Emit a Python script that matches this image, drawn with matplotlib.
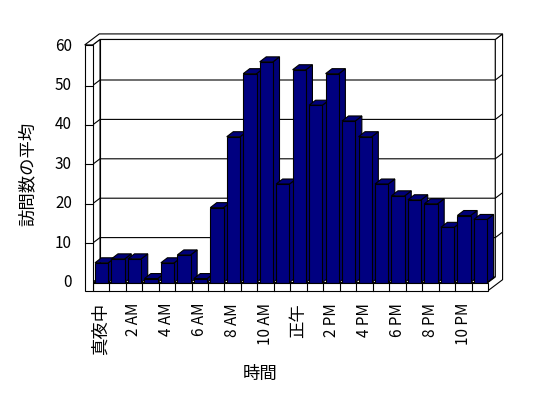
import matplotlib
matplotlib.use("Agg")
import matplotlib.pyplot as plt
from matplotlib.patches import Polygon

plt.rcParams['font.family'] = ['Noto Sans CJK JP', 'DejaVu Sans']

# ---- data ----
hours = list(range(24))
tick_labels = ['真夜中', '2 AM', '4 AM', '6 AM', '8 AM', '10 AM',
               '正午', '2 PM', '4 PM', '6 PM', '8 PM', '10 PM']
visits = [5, 6, 6, 1, 5, 7, 1, 19, 37, 53, 56, 25,
          54, 45, 53, 41, 37, 25, 22, 21, 20, 14, 17, 16]
y_ticks = [0, 10, 20, 30, 40, 50, 60]
y_label = '訪問数の平均'
x_label = '時間'

# ---- layout (pixel geometry of the pseudo-3D frame) ----
W, H = 548, 398
px_cat = 16.47          # pixels per category
px_unit = 3.94          # pixels per value unit
x0_px = 92.7            # left edge of category -0.5 (front plane)
y0_px = 282.5           # value 0 (front plane), from top

fig = plt.figure(figsize=(W / 100, H / 100), dpi=100)
ax = fig.add_axes([0, 0, 1, 1])
ax.set_xlim(-0.5 - x0_px / px_cat, -0.5 + (W - x0_px) / px_cat)
ax.set_ylim((y0_px - H) / px_unit, y0_px / px_unit)
ax.axis('off')

dx, dy = 7.3 / px_cat, 5.5 / px_unit      # depth of plot box
bdx, bdy = 6.5 / px_cat, 5.0 / px_unit    # depth of bars
T = 8.0 / px_cat                          # left wall thickness
F = 8.2 / px_unit                         # floor thickness
X0, X1 = -0.5, len(hours) - 0.5
top = 60.3
lw = 0.8
edge = 'black'

def poly(pts, fc='white', z=1):
    ax.add_patch(Polygon(pts, closed=True, facecolor=fc, edgecolor=edge,
                         linewidth=lw, joinstyle='miter', zorder=z))

# back wall inner face
poly([(X0 + dx, dy), (X1 + dx, dy), (X1 + dx, top + dy), (X0 + dx, top + dy)], z=1)
# left wall inner face
poly([(X0, 0), (X0, top), (X0 + dx, top + dy), (X0 + dx, dy)], z=1)
# floor top
poly([(X0, 0), (X1, 0), (X1 + dx, dy), (X0 + dx, dy)], z=1)
# right side face
poly([(X1, 0), (X1, -F), (X1 + 2 * dx, -F + 2 * dy), (X1 + 2 * dx, top + 2 * dy),
      (X1 + dx, top + dy), (X1 + dx, dy)], z=1)
# top face of walls
poly([(X0 - T, top), (X0 - T + 2 * dx, top + 2 * dy), (X1 + 2 * dx, top + 2 * dy),
      (X1 + dx, top + dy), (X0 + dx, top + dy), (X0, top)], z=1)

# gridlines
for v in y_ticks[1:-1]:
    ax.plot([X0, X0 + dx, X1 + dx, X1 + 2 * dx],
            [v, v + dy, v + dy, v + 2 * dy], color=edge, lw=lw, zorder=2,
            solid_capstyle='butt')

# bars
a, w = 2.3 / px_cat, 13.3 / px_cat
front_c, top_c, side_c = '#000080', '#000078', '#000078'
for i, v in zip(hours, visits):
    xl = i - 0.5 + a
    xr = xl + w
    z = 3 + i * 0.01
    poly([(xr, 0), (xr, v), (xr + bdx, v + bdy), (xr + bdx, bdy)], fc=side_c, z=z)
    poly([(xl, v), (xr, v), (xr + bdx, v + bdy), (xl + bdx, v + bdy)], fc=top_c, z=z)
    poly([(xl, 0), (xr, 0), (xr, v), (xl, v)], fc=front_c, z=z + 0.001)

# floor front face with category cells
poly([(X0, -F), (X1, -F), (X1, 0), (X0, 0)], z=5)
for i in hours[1:]:
    ax.plot([i - 0.5, i - 0.5], [-F, 0], color=edge, lw=lw, zorder=5.1)
# left wall front face
poly([(X0 - T, -F), (X0, -F), (X0, top), (X0 - T, top)], z=5)
for v in y_ticks[1:-1]:
    ax.plot([X0 - T, X0], [v, v], color=edge, lw=lw, zorder=5.1)

# y tick labels
xlab = X0 - (x0_px - 72) / px_cat
for v in y_ticks:
    ax.text(xlab, v, str(v), ha='right', va='center', fontsize=11)

# x tick labels
ylab = (y0_px - 303) / px_unit
for k, lab in enumerate(tick_labels):
    cjk = not any(c.isascii() for c in lab)
    ax.text(hours[2 * k], ylab, lab, rotation=90, ha='center', va='top',
            fontsize=12.5 if cjk else 11)

# axis titles
ax.text(X0 - (x0_px - 28) / px_cat, (y0_px - 174) / px_unit, y_label,
        rotation=90, ha='center', va='center', fontsize=12.5)
ax.text(X0 + (260 - x0_px) / px_cat, (y0_px - 374) / px_unit, x_label,
        ha='center', va='center', fontsize=12.5)

fig.savefig('out.png', dpi=100, facecolor='white')
